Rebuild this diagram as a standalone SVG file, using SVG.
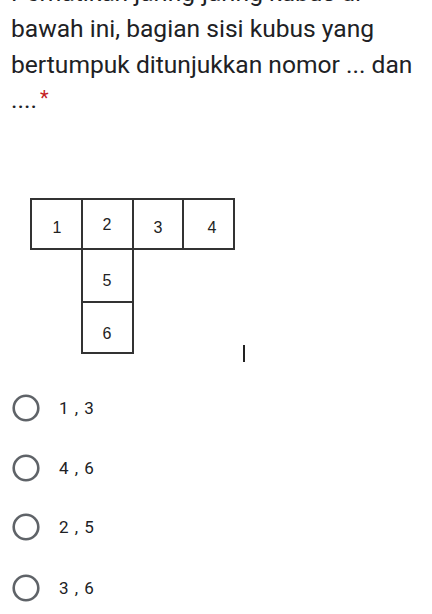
<svg xmlns="http://www.w3.org/2000/svg" width="432" height="614" viewBox="0 0 432 614">
<style>
.q{font-family:Roboto,"Noto Sans",sans-serif;font-size:24.6px;fill:#202124}
.n{font-family:"Liberation Sans",Arial,sans-serif;font-size:16px;fill:#222;text-anchor:middle}
.cell{fill:#fff;stroke:#333;stroke-width:2}
.radio{fill:none;stroke:#5f6368;stroke-width:2.6}
.opt{font-family:Roboto,"Noto Sans",sans-serif;font-size:17px;fill:#202124;word-spacing:2px}
</style>
<rect width="432" height="614" fill="#fff"/>
<g id="question">
<text class="q" x="11" y="1">Perhatikan jaring-jaring kubus di</text>
<text class="q" x="11" y="37">bawah ini, bagian sisi kubus yang</text>
<text class="q" x="11" y="73">bertumpuk ditunjukkan nomor ... dan</text>
<text class="q" x="11" y="108">....</text>
<text x="40" y="105" font-family="Roboto,sans-serif" font-size="20" fill="#c5221f">*</text>
</g>
<g id="net">
<g id="cell1"><rect class="cell" x="31" y="199" width="51" height="50"/><text class="n" x="57" y="233">1</text></g>
<g id="cell2"><rect class="cell" x="82" y="199" width="51" height="50"/><text class="n" x="107" y="230">2</text></g>
<g id="cell3"><rect class="cell" x="133" y="199" width="50" height="50"/><text class="n" x="158" y="233">3</text></g>
<g id="cell4"><rect class="cell" x="183" y="199" width="51" height="50"/><text class="n" x="212" y="233">4</text></g>
<g id="cell5"><rect class="cell" x="82" y="249" width="51" height="53"/><text class="n" x="107" y="286">5</text></g>
<g id="cell6"><rect class="cell" x="82" y="302" width="51" height="51"/><text class="n" x="107" y="339">6</text></g>
</g>
<line x1="244" y1="345" x2="244" y2="362" stroke="#222" stroke-width="2"/>
<g id="options">
<g id="opt1"><circle class="radio" cx="26" cy="408" r="12.3"/><text class="opt" x="59" y="414">1 , 3</text></g>
<g id="opt2"><circle class="radio" cx="26" cy="468" r="12.3"/><text class="opt" x="59" y="474">4 , 6</text></g>
<g id="opt3"><circle class="radio" cx="26" cy="527" r="12.3"/><text class="opt" x="59" y="533">2 , 5</text></g>
<g id="opt4"><circle class="radio" cx="26" cy="588" r="12.3"/><text class="opt" x="59" y="594">3 , 6</text></g>
</g>
</svg>
